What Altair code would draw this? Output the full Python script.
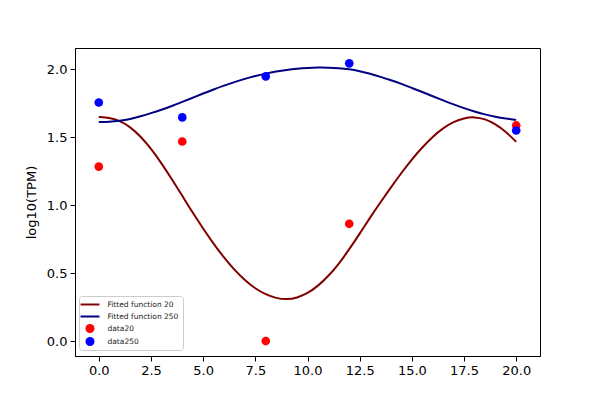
import altair as alt
import pandas as pd

# Measured data points
t_data = [0, 4, 8, 12, 20]
data20 = [1.284, 1.469, 0.0, 0.863, 1.587]
data250 = [1.756, 1.646, 1.948, 2.044, 1.550]

# Fitted curves
t_fit = [0, 0.5, 1, 1.5, 2, 2.5, 3, 3.5, 4, 4.5, 5, 5.5, 6, 6.5, 7, 7.5, 8, 8.5, 9, 9.5,
         10, 10.5, 11, 11.5, 12, 12.5, 13, 13.5, 14, 14.5, 15, 15.5, 16, 16.5, 17, 17.5,
         18, 18.5, 19, 19.5, 20]
fit20 = [1.650, 1.645, 1.622, 1.577, 1.507, 1.417, 1.310, 1.192, 1.069, 0.945, 0.828,
         0.716, 0.614, 0.523, 0.447, 0.386, 0.342, 0.315, 0.305, 0.318, 0.350, 0.405,
         0.478, 0.567, 0.675, 0.790, 0.910, 1.022, 1.132, 1.238, 1.337, 1.426, 1.505,
         1.568, 1.614, 1.642, 1.650, 1.635, 1.598, 1.542, 1.466]
fit250 = [1.612, 1.613, 1.620, 1.634, 1.654, 1.677, 1.702, 1.730, 1.760, 1.791, 1.822,
          1.852, 1.880, 1.906, 1.930, 1.951, 1.969, 1.984, 1.996, 2.005, 2.011, 2.014,
          2.013, 2.009, 2.001, 1.987, 1.968, 1.945, 1.920, 1.893, 1.863, 1.833, 1.802,
          1.771, 1.742, 1.714, 1.689, 1.668, 1.651, 1.638, 1.628]

names = ["Fitted function 20", "Fitted function 250", "data20", "data250"]
colors = ["#800000", "#000080", "#ff0000", "#0000ff"]
line_path = "M-2.1,-0.22H2.1V0.22H-2.1Z"
shapes = [line_path, line_path, "circle", "circle"]

x_ticks = [0, 2.5, 5, 7.5, 10, 12.5, 15, 17.5, 20]
y_ticks = [0, 0.5, 1.0, 1.5, 2.0]

fit_df = pd.DataFrame({
    "t": t_fit + t_fit,
    "y": fit20 + fit250,
    "series": [names[0]] * len(t_fit) + [names[1]] * len(t_fit),
})
red_df = pd.DataFrame({"t": t_data, "y": data20, "series": [names[2]] * len(t_data)})
blue_df = pd.DataFrame({"t": t_data, "y": data250, "series": [names[3]] * len(t_data)})

xscale = alt.Scale(domain=[-1.14, 21.14], nice=False, zero=False)
yscale = alt.Scale(domain=[-0.11, 2.157], nice=False, zero=False)
cscale = alt.Scale(domain=names, range=colors)
sscale = alt.Scale(domain=names, range=shapes)

xaxis = alt.Axis(values=x_ticks, format=".1f", title=None, grid=False)
yaxis = alt.Axis(values=y_ticks, format=".1f", title="log10(TPM)", grid=False)

leg = alt.Legend(title=None, orient="none", legendX=4, legendY=248)

lines = alt.Chart(fit_df).mark_line(strokeWidth=2, interpolate="basis").encode(
    x=alt.X("t:Q", scale=xscale, axis=xaxis),
    y=alt.Y("y:Q", scale=yscale, axis=yaxis),
    color=alt.Color("series:N", scale=cscale, legend=leg),
    detail="series:N",
)


def point_layer(df):
    return alt.Chart(df).mark_point(filled=True, size=75, opacity=1).encode(
        x=alt.X("t:Q", scale=xscale, axis=xaxis),
        y=alt.Y("y:Q", scale=yscale, axis=yaxis),
        color=alt.Color("series:N", scale=cscale, legend=leg),
        shape=alt.Shape("series:N", scale=sscale, legend=leg),
    )


chart = alt.layer(lines, point_layer(red_df), point_layer(blue_df)).properties(
    width=465,
    height=308,
    autosize=alt.AutoSizeParams(type="none"),
    padding={"left": 67, "top": 40, "right": 52, "bottom": 36},
).configure_view(
    stroke="black", strokeWidth=1
).configure_axis(
    domainColor="black", domainWidth=1, tickColor="black", tickSize=5, tickWidth=1,
    labelColor="black", labelFont="DejaVu Sans", labelFontSize=13, labelPadding=3,
    titleColor="black", titleFont="DejaVu Sans", titleFontSize=13, titleFontWeight="normal",
    titlePadding=8,
).configure_legend(
    labelFont="DejaVu Sans", labelFontSize=7.5, labelColor="#222222",
    symbolSize=81, symbolStrokeWidth=0, rowPadding=4, padding=4,
    symbolOffset=2.5, labelOffset=13,
    fillColor="rgba(255,255,255,0.8)", strokeColor="#cccccc", cornerRadius=3,
)

chart.save("out.html", embed_options={"renderer": "svg", "actions": False})
